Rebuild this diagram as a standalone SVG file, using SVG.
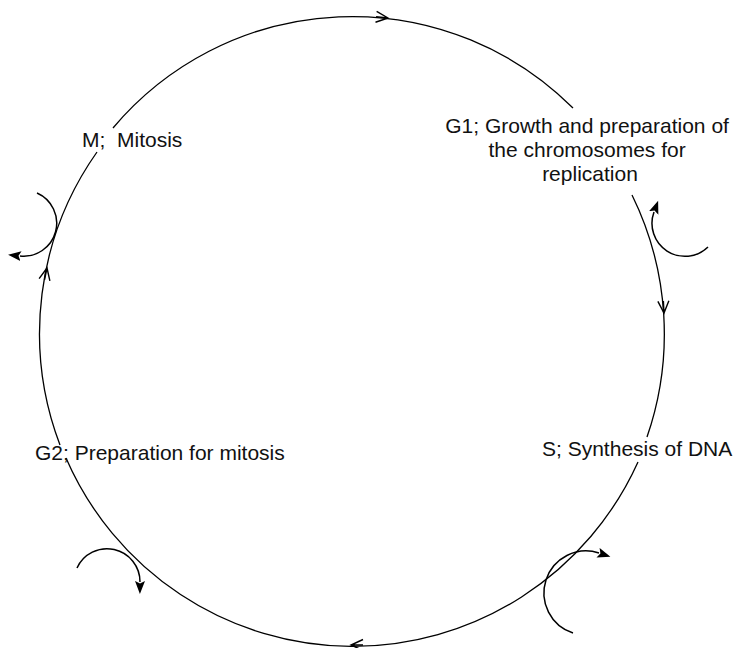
<svg xmlns="http://www.w3.org/2000/svg" width="736" height="648" viewBox="0 0 736 648">
  <style>
    .ring { fill: none; stroke: #000; stroke-width: 1.3; }
    .turn { fill: none; stroke: #000; stroke-width: 1.5; marker-end: url(#stealth); }
    .chev { fill: none; stroke: #000; stroke-width: 1.4; stroke-linejoin: miter; }
    .lbl { font-family: "Liberation Sans", Arial, sans-serif; font-size: 21px; fill: #111; }
  </style>
  <defs>
    <!-- filled concave arrowhead, base sits on the path end -->
    <marker id="stealth" markerUnits="userSpaceOnUse" markerWidth="16" markerHeight="12" refX="1" refY="5" orient="auto">
      <path d="M0,0 L13,5 L0,10 L2.5,5 z" fill="#000"/>
    </marker>
    <!-- open chevron pointing along +x, tip at origin -->
    <path id="chev" d="M-12,-5.5 L0,0 L-12,5.5 M-12,0 L0,0"/>
  </defs>

  <!-- cell-cycle ring with its direction marks and transition arrows -->
  <g id="connectors">
    <path class="ring" d="M113,128 A313,314 0 0 1 573,108"/>
    <path class="ring" d="M632,195 A313,314 0 0 1 647,437"/>
    <path class="ring" d="M638,462 A313,314 0 0 1 66,458"/>
    <path class="ring" d="M60,445 A313,314 0 0 1 97,152"/>

    <use href="#chev" class="chev" transform="translate(388,18) rotate(6)"/>
    <use href="#chev" class="chev" transform="translate(664,313) rotate(87)"/>
    <use href="#chev" class="chev" transform="translate(351,645) rotate(180)"/>
    <use href="#chev" class="chev" transform="translate(47,268) rotate(-78)"/>

    <path class="turn" d="M708,247 A33,33 0 0 1 654,212"/>
    <path class="turn" d="M573,633 A42,42 0 0 1 599,553"/>
    <path class="turn" d="M77,568 A33,33 0 0 1 140,582"/>
    <path class="turn" d="M37,193 A33,33 0 0 1 20,256"/>
  </g>

  <g id="phase-m">
    <text class="lbl" x="82" y="147" xml:space="preserve">M;  Mitosis</text>
  </g>
  <g id="phase-g1">
    <text class="lbl" text-anchor="middle">
      <tspan x="590" y="133">G1; Growth and preparation of</tspan>
      <tspan x="590" y="157">the chromosomes for</tspan>
      <tspan x="590" y="181">replication</tspan>
    </text>
  </g>
  <g id="phase-s">
    <text class="lbl" x="542" y="456">S; Synthesis of DNA</text>
  </g>
  <g id="phase-g2">
    <text class="lbl" x="35" y="460">G2; Preparation for mitosis</text>
  </g>
</svg>
